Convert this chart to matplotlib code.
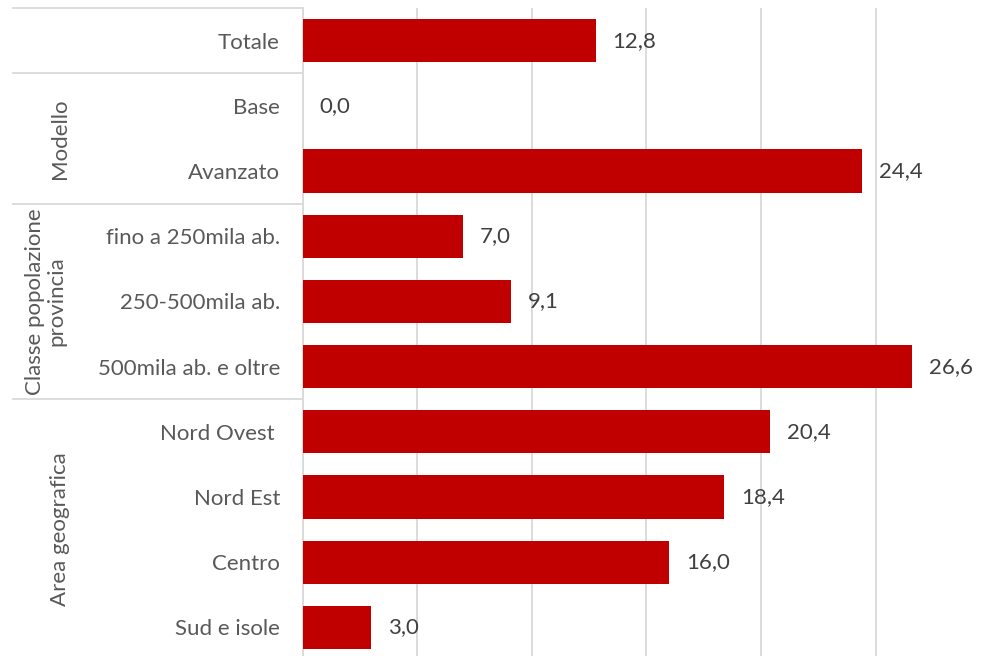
import matplotlib
matplotlib.use("Agg")
import matplotlib.pyplot as plt
import matplotlib.transforms as mtransforms
from matplotlib.lines import Line2D

categories = ["Totale", "Base", "Avanzato", "fino a 250mila ab.", "250-500mila ab.",
              "500mila ab. e oltre", "Nord Ovest ", "Nord Est", "Centro", "Sud e isole"]
values = [12.8, 0.0, 24.4, 7.0, 9.1, 26.6, 20.4, 18.4, 16.0, 3.0]
groups = [("Modello", 1, 2), ("Classe popolazione\nprovincia", 3, 5), ("Area geografica", 6, 9)]
group_boundaries = [-0.5, 0.5, 2.5, 5.5]

plt.rcParams['font.family'] = ['Lato', 'DejaVu Sans']

W, H = 983, 656
FS = 16
fig = plt.figure(figsize=(W / 100, H / 100), dpi=100)
left = 302.5 / W
bottom = -4 / H
top = (H - 8) / H
ax = fig.add_axes([left, bottom, 1 - left, top - bottom])

y = list(range(len(categories)))
ax.barh(y, values, height=0.66, color="#C00000", zorder=3)
ax.set_ylim(len(categories) - 0.5, -0.5)
ax.set_xlim(0, 29.68)
ax.set_xticks([0, 5, 10, 15, 20, 25])
ax.set_xticklabels([])
ax.tick_params(axis="x", length=0)
ax.grid(axis="x", color="#D9D9D9", linewidth=1.3, zorder=0)
for s in ["top", "right", "bottom"]:
    ax.spines[s].set_visible(False)
ax.spines["left"].set_color("#D9D9D9")
ax.spines["left"].set_linewidth(1.3)

ax.set_yticks(y)
ax.set_yticklabels(categories, fontsize=FS, color="#595959")
ax.tick_params(axis="y", length=0, pad=16.2)

for yi, v in zip(y, values):
    ax.annotate(f"{v:.1f}".replace(".", ","), xy=(v, yi), xytext=(12, 0),
                textcoords="offset points", va="center", ha="left",
                fontsize=FS, color="#404040")

trans = mtransforms.blended_transform_factory(fig.transFigure, ax.transData)
for b in group_boundaries:
    fig.add_artist(Line2D([13 / W, left], [b, b], transform=trans,
                          color="#D9D9D9", linewidth=1.3, clip_on=False))

for name, a, b in groups:
    fig.text(60 / W if "\n" not in name else 46 / W, (a + b) / 2, name, transform=trans,
             rotation=90, ha="center", va="center", fontsize=FS, color="#595959",
             multialignment="center", linespacing=1.1)

fig.savefig("out.png", dpi=100)
